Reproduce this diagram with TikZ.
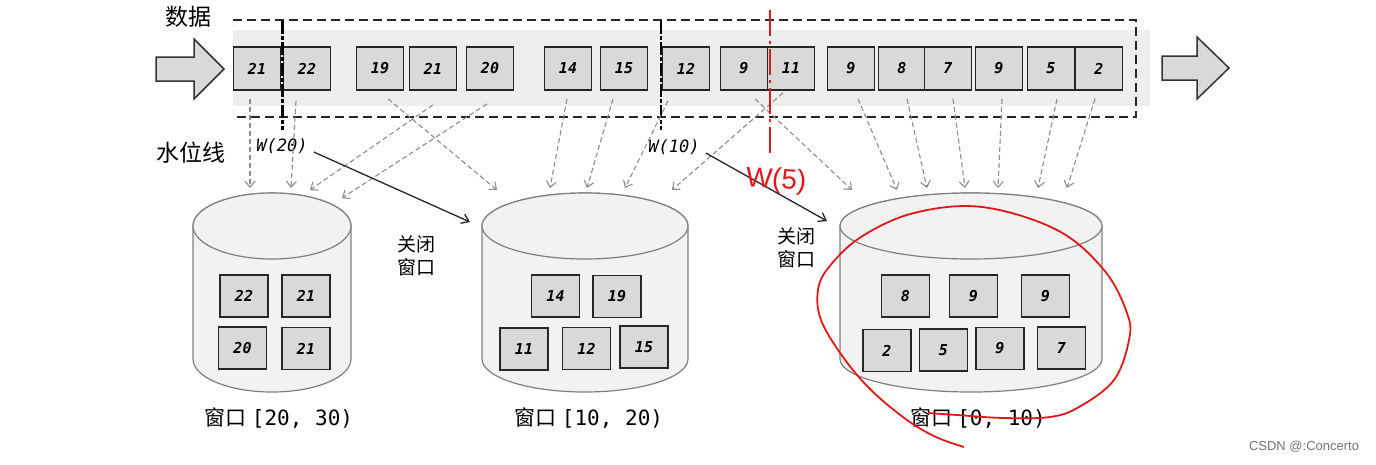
\documentclass[tikz,border=0pt]{standalone}
\usepackage{fontspec}
\setmainfont{Liberation Sans}
\newfontfamily\cjk{Noto Sans CJK SC}
\newfontfamily\mono{DejaVu Sans Mono}
\usetikzlibrary{arrows.meta,calc}
\definecolor{boxfill}{HTML}{D9D9D9}
\definecolor{bandgray}{HTML}{EEEEEE}
\definecolor{cylfill}{HTML}{F2F2F2}
\definecolor{cylline}{HTML}{7F7F7F}
\definecolor{flowgray}{HTML}{8C8C8C}
\definecolor{inkred}{HTML}{E01818}
\begin{document}
\begin{tikzpicture}[x=1pt,y=1pt,
  numbox/.style={draw=black!85, fill=boxfill, line width=1.8pt, minimum width=47pt, minimum height=43pt, inner sep=0pt, font=\mono\bfseries\itshape\fontsize{15}{15}\selectfont},
  inbox/.style={numbox, minimum width=48pt, minimum height=42pt},
  flow/.style={draw=flowgray, line width=1.1pt, dash pattern=on 5pt off 3pt, -{Straight Barb[length=6pt,width=10pt]}},
  closearrow/.style={draw=black!85, line width=1.3pt, -{Straight Barb[length=7pt,width=10pt]}},
  cylshape/.style={draw=cylline, fill=cylfill, line width=1.2pt},
  bigarrow/.style={draw=black!80, fill=boxfill, line width=1.5pt},
  wline/.style={draw=black, line width=3pt, dash pattern=on 13pt off 2pt on 4pt off 2pt},
  dashrect/.style={draw=black!85, line width=1.8pt, dash pattern=on 9pt off 5pt},
  cjklabel/.style={font=\cjk\fontsize{23}{23}\selectfont, inner sep=0pt},
  closelabel/.style={font=\cjk\fontsize{19}{23}\selectfont, align=left, inner sep=0pt},
  winlabel/.style={font=\fontsize{21}{21}\selectfont, inner sep=0pt},
  wlabel/.style={font=\mono\itshape\fontsize{17}{17}\selectfont, inner sep=0pt}
]
\useasboundingbox (0,0) rectangle (1376,-464);

% band and dashed frame
\fill[bandgray] (233,-30) rectangle (1150,-106);
\coordinate (fa) at (233,-20);
\coordinate (fb) at (1136,-20);
\coordinate (fc) at (1136,-117);
\coordinate (fd) at (233,-117);
\draw[dashrect] (fa) -- (fb) -- (fc) -- (fd);

% big arrows
\draw[bigarrow] (156,-57) -- (194,-57) -- (194,-39) -- (224,-69) -- (194,-99) -- (194,-81) -- (156,-81) -- cycle;
\draw[bigarrow] (1162,-56) -- (1197,-56) -- (1197,-37) -- (1229,-68) -- (1197,-99) -- (1197,-80) -- (1162,-80) -- cycle;

% labels
\node[cjklabel] (shuju) at (188,-17) {数据};
\node[cjklabel] (shuiwei) at (191,-153) {水位线};

% top boxes
\node[numbox] (t1) at (257,-68.5) {21};
\node[numbox] (t2) at (307,-68.5) {22};
\node[numbox] (t3) at (380,-68.5) {19};
\node[numbox] (t4) at (433,-68.5) {21};
\node[numbox] (t5) at (490,-68.5) {20};
\node[numbox] (t6) at (568,-68.5) {14};
\node[numbox] (t7) at (624,-68.5) {15};
\node[numbox] (t8) at (686,-68.5) {12};
\node[numbox] (t9) at (744,-68.5) {9};
\node[numbox] (t10) at (791,-68.5) {11};
\node[numbox] (t11) at (851,-68.5) {9};
\node[numbox] (t12) at (902,-68.5) {8};
\node[numbox] (t13) at (948,-68.5) {7};
\node[numbox] (t14) at (999,-68.5) {9};
\node[numbox] (t15) at (1051,-68.5) {5};
\node[numbox] (t16) at (1099,-68.5) {2};

% watermark lines
\coordinate (w20a) at (282,-21);
\coordinate (w20b) at (282,-130);
\coordinate (w10a) at (661,-21);
\coordinate (w10b) at (661,-130);
\draw[wline] (w20a) -- (w20b);
\draw[wline, line width=2.4pt] (w10a) -- (w10b);
\node[wlabel] (w20lab) at (282,-146) {W(20)};
\node[wlabel] (w10lab) at (674,-147) {W(10)};

% cylinders
\draw[cylshape] (193,-226) -- (193,-359) arc[start angle=180,end angle=360,x radius=79pt,y radius=33pt] -- (351,-226) arc[start angle=0,end angle=180,x radius=79pt,y radius=33pt] -- cycle;
\draw[cylshape] (272,-226) ellipse[x radius=79pt,y radius=33pt];
\draw[cylshape] (482,-226) -- (482,-359) arc[start angle=180,end angle=360,x radius=103pt,y radius=33pt] -- (688,-226) arc[start angle=0,end angle=180,x radius=103pt,y radius=33pt] -- cycle;
\draw[cylshape] (585,-226) ellipse[x radius=103pt,y radius=33pt];
\draw[cylshape] (840,-226) -- (840,-359) arc[start angle=180,end angle=360,x radius=131pt,y radius=33pt] -- (1102,-226) arc[start angle=0,end angle=180,x radius=131pt,y radius=33pt] -- cycle;
\draw[cylshape] (971,-226) ellipse[x radius=131pt,y radius=33pt];

% flow arrow end points
\foreach \n/\x/\y in {1/250/188, 2/291/188, 3/497/190, 4/310/190, 5/342/198, 6/550/188, 7/587/188, 8/625/188, 9/672/190, 10/852/190, 11/897/190, 12/927/188, 13/965/188, 14/998/188, 15/1038/188, 16/1067/188}
  \coordinate (e\n) at (\x,-\y);

\draw[flow] ($(t1.south)+(-7,-8)$) -- (e1);
\draw[flow] ($(t2.south)+(-11,-10)$) -- (e2);
\draw[flow] ($(t3.south)+(8,-8)$) -- (e3);
\draw[flow] ($(t4.south)+(0,-14)$) -- (e4);
\draw[flow] ($(t5.south)+(-3,-13)$) -- (e5);
\draw[flow] ($(t6.south)+(-1,-8)$) -- (e6);
\draw[flow] ($(t7.south)+(-11,-8)$) -- (e7);
\draw[flow] ($(t8.south)+(-18,-10)$) -- (e8);
\draw[flow] ($(t10.south)+(-8,-2)$) -- (e9);
\draw[flow] ($(t9.south)+(11,-8)$) -- (e10);
\draw[flow] ($(t11.south)+(7,-8)$) -- (e11);
\draw[flow] ($(t12.south)+(5,-8)$) -- (e12);
\draw[flow] ($(t13.south)+(5,-8)$) -- (e13);
\draw[flow] ($(t14.south)+(3,-8)$) -- (e14);
\draw[flow] ($(t15.south)+(6,-8)$) -- (e15);
\draw[flow] ($(t16.south)+(-4,-8)$) -- (e16);

% close-window arrows
\coordinate (c2in) at (470,-222);
\coordinate (c3in) at (827,-221);
\draw[closearrow] ($(w20lab.east)+(6,-6)$) -- (c2in);
\draw[closearrow] ($(w10lab.east)+(6,-6)$) -- (c3in);
\node[closelabel] (close1) at (416,-256) {关闭\\窗口};
\node[closelabel] (close2) at (796,-248) {关闭\\窗口};

% boxes in cylinders
\node[inbox] (a1) at (244,-296) {22};
\node[inbox] (a2) at (306,-296) {21};
\node[inbox] (a3) at (242.5,-348) {20};
\node[inbox] (a4) at (306,-348.5) {21};

\node[inbox] (b1) at (555.5,-296) {14};
\node[inbox] (b2) at (617,-296.5) {19};
\node[inbox] (b3) at (524,-349) {11};
\node[inbox] (b4) at (586.5,-348.5) {12};
\node[inbox] (b5) at (644,-347) {15};

\node[inbox] (c1) at (905.5,-296) {8};
\node[inbox] (c2) at (973.5,-296) {9};
\node[inbox] (c3) at (1045.5,-296) {9};
\node[inbox] (c4) at (887,-350.5) {2};
\node[inbox] (c5) at (943.5,-350) {5};
\node[inbox] (c6) at (1000,-348.5) {9};
\node[inbox] (c7) at (1061.5,-348) {7};

% window labels
\node[winlabel] (win1) at (279,-418) {{\cjk 窗口}\hspace{5pt}{\mono [20, 30)}};
\node[winlabel] (win2) at (589,-418) {{\cjk 窗口}\hspace{5pt}{\mono [10, 20)}};
\node[winlabel] (win3) at (978,-418) {{\cjk 窗口}\hspace{5pt}{\mono [0, 10)}};

% red annotations
\coordinate (ra) at (770,-10);
\coordinate (rb) at (770,-158);
\draw[inkred, line width=2pt, dash pattern=on 26pt off 5pt on 3pt off 5pt] (ra) -- (rb);
\node[text=inkred, font=\fontsize{28}{28}\selectfont, inner sep=0pt, rotate=-4] (w5) at (776,-181) {W(5)};
\draw[inkred, line width=1.8pt] plot[smooth, tension=0.6] coordinates {(964,-447) (936,-437) (907,-420) (871,-390) (843,-357) (821,-320) (818,-290) (829,-267) (861,-237) (914,-213) (982,-207) (1057,-230) (1104,-270) (1127,-313) (1129,-340) (1114,-380) (1079,-407) (1050,-417) (1004,-418) (957,-415) (928,-413)};

% watermark
\node[text=black!55, font=\fontsize{13}{13}\selectfont, inner sep=0pt] (csdn) at (1304,-447) {CSDN @:Concerto};
\end{tikzpicture}
\end{document}
